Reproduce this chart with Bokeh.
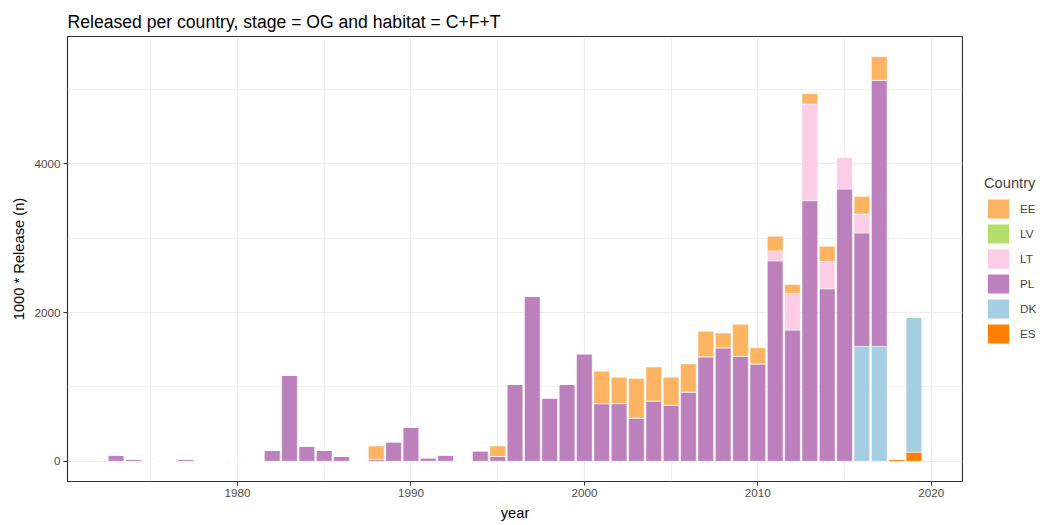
from bokeh.plotting import figure
from bokeh.models import ColumnDataSource, Range1d, FixedTicker, Legend, LegendItem
from bokeh.layouts import row
from bokeh.embed import file_html
from bokeh.resources import INLINE

years = list(range(1973, 2020))
countries = ["EE", "LV", "LT", "PL", "DK", "ES"]
colors = ["#FDB462", "#B3DE69", "#FCCDE5", "#BC80BD", "#A6CEE3", "#FF7F00"]

pl_vals = {1973: 83, 1974: 30, 1977: 30, 1982: 145, 1983: 1157, 1984: 204, 1985: 145,
           1986: 65, 1988: 25, 1989: 262, 1990: 459, 1991: 47, 1992: 83, 1994: 141,
           1995: 65, 1996: 1036, 1997: 2221, 1998: 852, 1999: 1036, 2000: 1447,
           2001: 776, 2002: 776, 2003: 580, 2004: 812, 2005: 754, 2006: 933,
           2007: 1407, 2008: 1528, 2009: 1412, 2010: 1311, 2011: 2696, 2012: 1765,
           2013: 3506, 2014: 2320, 2015: 3662, 2016: 1525, 2017: 3579}
ee_vals = {1988: 179, 1995: 139, 2001: 435, 2002: 354, 2003: 532, 2004: 456, 2005: 376,
           2006: 376, 2007: 341, 2008: 197, 2009: 430, 2010: 215, 2011: 197, 2012: 121,
           2013: 138, 2014: 202, 2016: 238, 2017: 318}
lt_vals = {2011: 134, 2012: 492, 2013: 1302, 2014: 371, 2015: 429, 2016: 255}
lv_vals = {}
dk_vals = {2016: 1546, 2017: 1546, 2019: 1816}
es_vals = {2018: 25, 2019: 123}

data = {"year": years}
for c, d in zip(countries, [ee_vals, lv_vals, lt_vals, pl_vals, dk_vals, es_vals]):
    data[c] = [d.get(y, 0) for y in years]
source = ColumnDataSource(data)

ymax = max(sum(data[c][i] for c in countries) for i in range(len(years)))

FONT = "Liberation Sans"

p = figure(width=963, height=525, output_backend="svg", toolbar_location=None,
           x_range=Range1d(1970.2, 2021.8), y_range=Range1d(-0.05 * ymax, 1.05 * ymax),
           min_border_left=67, min_border_right=1, min_border_top=36, min_border_bottom=44)

# ggplot stacks with first level on top: bottom-up order is reverse
stack_order = countries[::-1]
stack_colors = colors[::-1]
p.vbar_stack(stack_order, x="year", width=0.9, source=source,
             fill_color=stack_colors, line_color="white", line_width=0.8,
             line_alpha=0.6)

p.background_fill_color = "white"
p.border_fill_color = "white"
p.outline_line_color = "#333333"
p.outline_line_width = 1.2

p.xaxis.ticker = FixedTicker(ticks=[1980, 1990, 2000, 2010, 2020],
                             minor_ticks=[1975, 1985, 1995, 2005, 2015])
p.yaxis.ticker = FixedTicker(ticks=[0, 2000, 4000], minor_ticks=[1000, 3000, 5000])

for g in (p.xgrid, p.ygrid):
    g.grid_line_color = "#EBEBEB"
    g.grid_line_width = 1.2
    g.minor_grid_line_color = "#EBEBEB"
    g.minor_grid_line_width = 0.7

for ax in (p.xaxis, p.yaxis):
    ax.axis_line_color = None
    ax.major_tick_line_color = "#333333"
    ax.major_tick_out = 4
    ax.major_tick_in = 0
    ax.minor_tick_line_color = None
    ax.major_label_text_font = FONT
    ax.major_label_text_font_size = "11.7px"
    ax.major_label_text_color = "#4D4D4D"
    ax.axis_label_text_font = FONT
    ax.axis_label_text_font_size = "14.7px"
    ax.axis_label_text_font_style = "normal"
    ax.axis_label_text_color = "black"

p.xaxis.axis_label = "year"
p.yaxis.axis_label = "1000 * Release (n)"
p.xaxis.major_label_standoff = 3
p.yaxis.major_label_standoff = 3
p.xaxis.axis_label_standoff = 5
p.yaxis.axis_label_standoff = 4

p.title.text = "Released per country, stage = OG and habitat = C+F+T"
p.title.text_font = FONT
p.title.text_font_size = "17.6px"
p.title.text_font_style = "normal"
p.title.text_color = "black"
p.title.offset = 0
p.title.standoff = 10

# legend panel: same stacked bars, out of its view, used only as legend keys
p2 = figure(width=85, height=525, output_backend="svg", toolbar_location=None,
            x_range=Range1d(0, 1), y_range=Range1d(0, 1),
            x_axis_type=None, y_axis_type=None, min_border=0)
p2.outline_line_color = None
p2.background_fill_color = "white"
p2.border_fill_color = "white"
r2 = p2.vbar_stack(stack_order, x="year", width=0.9, source=source,
                   fill_color=stack_colors, line_color="white", line_width=1)
rmap = dict(zip(stack_order, r2))
items = [LegendItem(label=c, renderers=[rmap[c]]) for c in countries]
legend = Legend(items=items, location=(21, 135), title="Country",
                title_text_font=FONT, title_text_font_size="14.7px",
                title_text_font_style="normal", title_standoff=5,
                label_text_font=FONT, label_text_font_size="11.7px",
                glyph_width=28, glyph_height=25, spacing=0, label_standoff=8,
                margin=0, padding=10, border_line_color=None,
                background_fill_alpha=0)
p2.add_layout(legend, "center")

layout = row(p, p2)
open("out.html", "w").write(file_html(layout, INLINE))
